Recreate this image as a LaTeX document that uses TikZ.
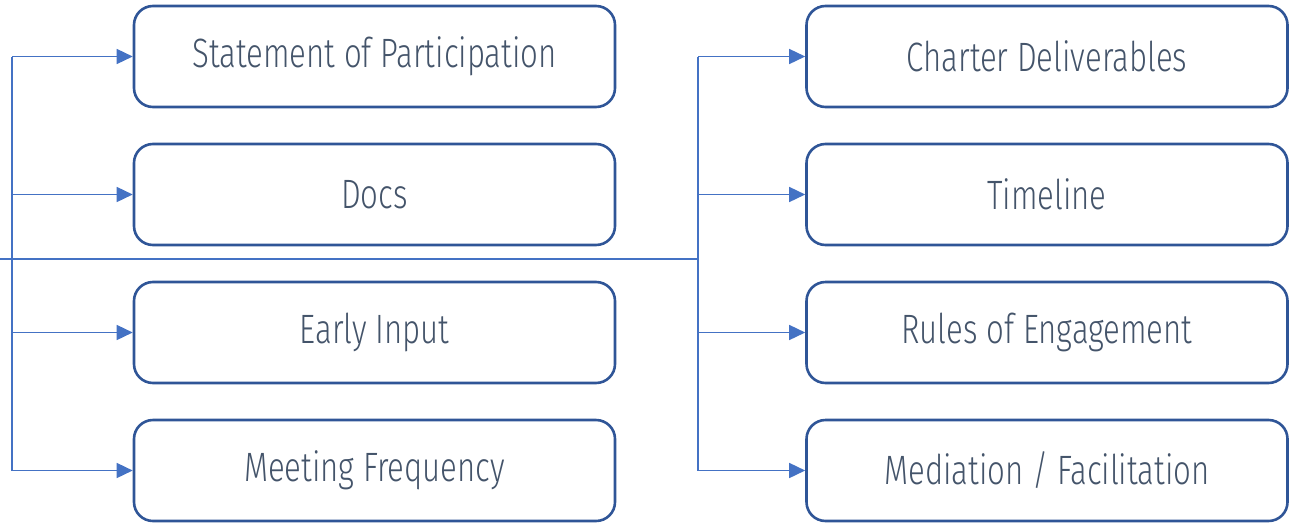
\documentclass[tikz,border=0pt]{standalone}
\usepackage{fontspec}
\setmainfont[FakeStretch=0.76]{Fira Sans Light}
\usetikzlibrary{arrows.meta}
\definecolor{boxblue}{HTML}{2F5597}
\definecolor{linkblue}{HTML}{4472C4}
\definecolor{txt}{HTML}{44546A}
\tikzset{
  item/.style={draw=boxblue, line width=2.6pt, rounded corners=19pt, minimum width=481pt, minimum height=101pt, inner sep=0pt, text=txt, font=\fontsize{41}{44}\selectfont, anchor=center},
  conn/.style={draw=linkblue, line width=1.5pt},
  arr/.style={conn, -{Triangle[length=16pt,width=15pt]}}
}
\begin{document}
\begin{tikzpicture}[x=1pt,y=-1pt]
\useasboundingbox (0,0) rectangle (1289,525);
% left boxes
\node[item] (l1) at (374.5,56.5) {Statement of Participation};
\node[item] (l2) at (374.5,194.5) {Docs};
\node[item] (l3) at (374.5,332.5) {Early Input};
\node[item] (l4) at (374.5,470.5) {Meeting Frequency};
% right boxes
\node[item] (r1) at (1047,56.5) {Charter Deliverables};
\node[item] (r2) at (1047,194.5) {Timeline};
\node[item] (r3) at (1047,332.5) {Rules of Engagement};
\node[item] (r4) at (1047,470.5) {Mediation / Facilitation};
% junction coordinates
\coordinate (lv1) at (12,56.5);
\coordinate (lv2) at (12,194.5);
\coordinate (lv3) at (12,332.5);
\coordinate (lv4) at (12,470.5);
\coordinate (rv1) at (698,56.5);
\coordinate (rv2) at (698,194.5);
\coordinate (rv3) at (698,332.5);
\coordinate (rv4) at (698,470.5);
\coordinate (start) at (0,259);
\coordinate (mid) at (698,259);
% trunk lines
\draw[conn] (lv1) -- (lv4);
\draw[conn] (start) -- (mid);
\draw[conn] (rv1) -- (rv4);
% arrows
\draw[arr] (lv1) -- (l1.west);
\draw[arr] (lv2) -- (l2.west);
\draw[arr] (lv3) -- (l3.west);
\draw[arr] (lv4) -- (l4.west);
\draw[arr] (rv1) -- (r1.west);
\draw[arr] (rv2) -- (r2.west);
\draw[arr] (rv3) -- (r3.west);
\draw[arr] (rv4) -- (r4.west);
\end{tikzpicture}
\end{document}
